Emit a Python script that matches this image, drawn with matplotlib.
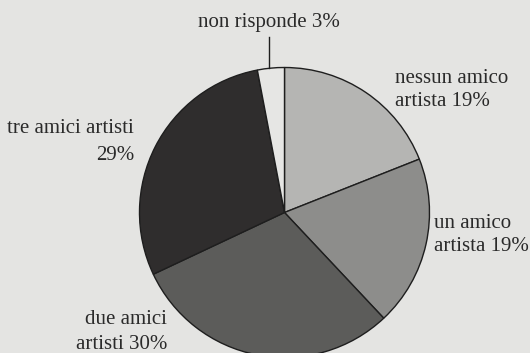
import matplotlib
matplotlib.use('Agg')
import matplotlib.pyplot as plt

# risposte: quanti amici artisti
labels = ['nessun amico\nartista 19%', 'un amico\nartista 19%', 'due amici\nartisti 30%',
          'tre amici artisti\n29%', 'non risponde 3%']
values = [19, 19, 30, 29, 3]
colors = ['#b5b5b3', '#8d8d8b', '#5c5c5a', '#2f2d2d', '#e6e6e4']

bg = '#e4e4e2'
txt = '#2a2a2a'

fig = plt.figure(figsize=(5.3, 3.53), dpi=100, facecolor=bg)
ax = fig.add_axes([0, 0, 1, 1])
ax.set_facecolor(bg)

# pie in pixel space, bottom edge slightly cut off
cx, cy, r = 284.5, 140.5, 145
ax.pie(values, center=(cx, cy), radius=r, startangle=90, counterclock=False,
       colors=colors, wedgeprops=dict(edgecolor='#1e1e1e', linewidth=1.0))
ax.set_xlim(0, 530)
ax.set_ylim(0, 353)
ax.set_aspect('equal')
ax.axis('off')

font = dict(family='Liberation Serif', fontsize=15, color=txt)

ax.text(269, 330, labels[4], ha='center', va='center', **font)
ax.plot([268.5, 268.5], [316, cy + r - 0.5], color='#1e1e1e', lw=1.0)

ax.text(395, 263, labels[0], ha='left', va='center', linespacing=1.3, **font)
ax.text(434, 118, labels[1], ha='left', va='center', linespacing=1.3, **font)
ax.text(167, 21, labels[2], ha='right', va='center', linespacing=1.4, **font)
ax.text(134, 211, labels[3], ha='right', va='center', linespacing=1.6, **font)

fig.savefig('out.png', dpi=100, facecolor=bg)
